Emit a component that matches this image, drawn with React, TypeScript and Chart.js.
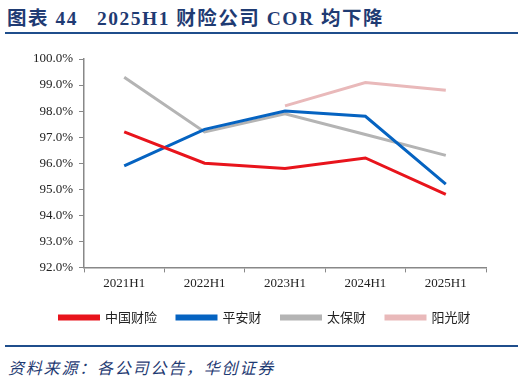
import React, { useEffect, useRef } from "react";
import { Chart, registerables } from "chart.js";

Chart.register(...registerables);

const categories = ["2021H1", "2022H1", "2023H1", "2024H1", "2025H1"];
const seriesNames = ["中国财险", "平安财", "太保财", "阳光财"];
const picc = [97.2, 96.0, 95.8, 96.2, 94.8];
const pingan = [95.9, 97.3, 98.0, 97.8, 95.2];
const cpic = [99.3, 97.2, 97.9, 97.1, 96.3];
const sunshine = [null, null, 98.2, 99.1, 98.8];
const yTicks = [92, 93, 94, 95, 96, 97, 98, 99, 100];

const colors = ["#E8141C", "#0563C1", "#B4B4B4", "#E9B9BA"];

export default function App() {
  const ref = useRef<HTMLCanvasElement | null>(null);
  useEffect(() => {
    document.body.style.margin = "0";
    const ctx = ref.current!;
    const data = [picc, pingan, cpic, sunshine];
    const chart = new Chart(ctx, {
      type: "line",
      data: {
        labels: categories,
        datasets: seriesNames.map((n, i) => ({
          label: n,
          data: data[i] as any,
          borderColor: colors[i],
          backgroundColor: colors[i],
          borderWidth: 3,
          pointRadius: 0,
          tension: 0,
          spanGaps: false,
          yAxisID: "y",
        })),
      },
      options: {
        animation: false,
        responsive: false,
        maintainAspectRatio: false,
        layout: { padding: { left: 6, right: 0, top: 19, bottom: 6 } },
        plugins: {
          tooltip: { enabled: false },
          legend: {
            position: "bottom",
            labels: {
              boxWidth: 39,
              boxHeight: 3,
              padding: 20,
              color: "#222",
              font: { family: "'Noto Sans CJK SC', sans-serif", size: 13 },
            },
          },
        },
        scales: {
          x: {
            offset: true,
            afterFit: (s: any) => {
              s.height = s.height - 3;
            },
            grid: {
              offset: true,
              drawOnChartArea: false,
              drawTicks: true,
              tickLength: 5,
              color: "#888",
            },
            border: { color: "#888", width: 1.5 },
            ticks: {
              color: "#222",
              padding: 3,
              font: { family: "'Liberation Serif', serif", size: 13 },
            },
          },
          y: {
            min: 92,
            max: 100,
            afterBuildTicks: (s: any) => {
              s.ticks = yTicks.map((v) => ({ value: v }));
            },
            afterFit: (s: any) => {
              s.width = 78;
            },
            grid: {
              drawOnChartArea: false,
              drawTicks: true,
              tickLength: 5,
              color: "#888",
            },
            border: { color: "#888", width: 1.5 },
            ticks: {
              color: "#222",
              padding: 6,
              font: { family: "'Liberation Serif', serif", size: 13 },
              callback: (v: any) => Number(v).toFixed(1) + "%",
            },
          },
          y2: {
            position: "right",
            display: true,
            min: 0,
            max: 1,
            afterFit: (s: any) => {
              s.width = 38;
            },
            grid: { display: false, drawTicks: false },
            border: { display: false },
            ticks: { display: false },
          },
        },
      },
    });
    return () => chart.destroy();
  }, []);

  return (
    <div style={{ position: "relative", width: 524, height: 382, background: "#fff" }}>
      <div
        style={{
          position: "absolute",
          left: 7,
          top: 2,
          fontFamily: "'Liberation Serif', 'Noto Sans CJK SC', serif",
          fontWeight: "bold",
          fontSize: 19.5,
          letterSpacing: 1.5,
          color: "#1F3B73",
          whiteSpace: "pre",
        }}
      >
        {"图表 44   2025H1 财险公司 COR 均下降"}
      </div>
      <div style={{ position: "absolute", left: 5, top: 32, width: 513, height: 2, background: "#1F4E8C" }} />
      <canvas ref={ref} width={524} height={300} style={{ position: "absolute", left: 0, top: 40 }} />
      <div style={{ position: "absolute", left: 5, top: 345, width: 513, height: 2, background: "#1F4E8C" }} />
      <div
        style={{
          position: "absolute",
          left: 8,
          top: 355,
          fontFamily: "'Noto Sans CJK SC', sans-serif",
          fontStyle: "italic",
          fontSize: 16,
          letterSpacing: 1.8,
          color: "#1F3B73",
          whiteSpace: "pre",
        }}
      >
        资料来源：各公司公告，华创证券
      </div>
    </div>
  );
}
